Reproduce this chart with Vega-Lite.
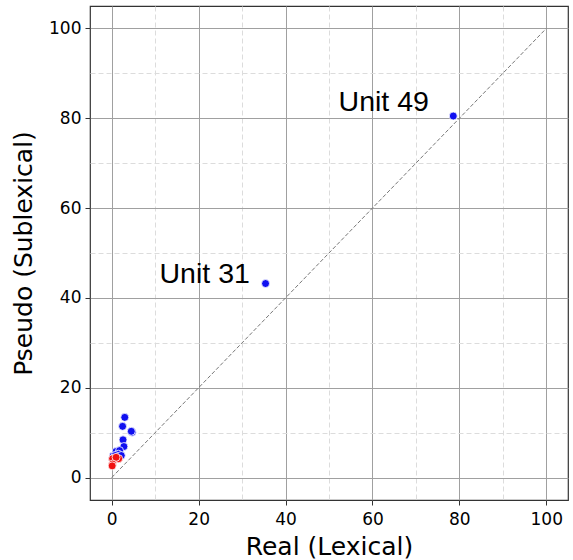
{
  "$schema": "https://vega.github.io/schema/vega-lite/v6.json",
  "width": 478,
  "height": 494,
  "autosize": {"type": "none"},
  "padding": {"left": 90, "top": 6, "right": 5, "bottom": 60},
  "background": "white",
  "config": {
    "view": {"stroke": "#333333", "strokeWidth": 1.2},
    "font": "DejaVu Sans",
    "axis": {
      "labelFont": "DejaVu Sans",
      "labelFontSize": 17,
      "labelColor": "#000000",
      "titleFont": "DejaVu Sans",
      "titleFontSize": 25,
      "titleFontWeight": "normal",
      "titleColor": "#000000",
      "tickColor": "#333333",
      "tickSize": 5,
      "domain": false
    }
  },
  "datasets": {
    "pts": [
      {"real": 78.6, "pseudo": 80.5, "group": "blue"},
      {"real": 35.4, "pseudo": 43.2, "group": "blue"},
      {"real": 3.0, "pseudo": 13.4, "group": "blue"},
      {"real": 2.5, "pseudo": 11.4, "group": "blue"},
      {"real": 4.7, "pseudo": 10.1, "group": "blue"},
      {"real": 4.5, "pseudo": 10.3, "group": "blue"},
      {"real": 2.6, "pseudo": 8.4, "group": "blue"},
      {"real": 2.8, "pseudo": 6.9, "group": "blue"},
      {"real": 1.0, "pseudo": 5.8, "group": "blue"},
      {"real": 1.8, "pseudo": 6.0, "group": "blue"},
      {"real": 0.3, "pseudo": 4.8, "group": "blue"},
      {"real": 1.5, "pseudo": 5.2, "group": "blue"},
      {"real": 0.8, "pseudo": 4.9, "group": "blue"},
      {"real": 2.2, "pseudo": 4.9, "group": "blue"},
      {"real": 0.2, "pseudo": 4.2, "group": "blue"},
      {"real": 0.2, "pseudo": 4.2, "group": "red"},
      {"real": 1.6, "pseudo": 4.2, "group": "red"},
      {"real": 1.0, "pseudo": 4.5, "group": "red"},
      {"real": 0.2, "pseudo": 3.0, "group": "red"},
      {"real": 0.1, "pseudo": 2.6, "group": "red"}
    ],
    "diag": [
      {"real": 0, "pseudo": 0},
      {"real": 100, "pseudo": 100}
    ],
    "labels": [
      {"real": 52.2, "pseudo": 81.7, "label": "Unit 49"},
      {"real": 11.0, "pseudo": 43.4, "label": "Unit 31"}
    ]
  },
  "layer": [
    {
      "data": {"name": "diag"},
      "mark": {"type": "line", "color": "#777777", "strokeWidth": 1, "strokeDash": [4, 2]},
      "encoding": {
        "x": {
          "field": "real", "type": "quantitative",
          "scale": {"domain": [-5, 105], "nice": false, "zero": false},
          "axis": {
            "title": "Real (Lexical)",
            "values": [0, 10, 20, 30, 40, 50, 60, 70, 80, 90, 100],
            "labelExpr": "datum.value % 20 === 0 ? datum.label : ''",
            "tickOpacity": {"condition": {"test": "datum.value % 20 === 0", "value": 1}, "value": 0},
            "gridDash": {"condition": {"test": "datum.value % 20 === 0", "value": []}, "value": [5, 3]},
            "gridColor": {"condition": {"test": "datum.value % 20 === 0", "value": "#a0a0a0"}, "value": "#dcdcdc"},
            "gridWidth": 1,
            "labelPadding": 6,
            "titlePadding": 7
          }
        },
        "y": {
          "field": "pseudo", "type": "quantitative",
          "scale": {"domain": [-5, 105], "nice": false, "zero": false},
          "axis": {
            "title": "Pseudo (Sublexical)",
            "values": [0, 10, 20, 30, 40, 50, 60, 70, 80, 90, 100],
            "labelExpr": "datum.value % 20 === 0 ? datum.label : ''",
            "tickOpacity": {"condition": {"test": "datum.value % 20 === 0", "value": 1}, "value": 0},
            "gridDash": {"condition": {"test": "datum.value % 20 === 0", "value": []}, "value": [5, 3]},
            "gridColor": {"condition": {"test": "datum.value % 20 === 0", "value": "#a0a0a0"}, "value": "#dcdcdc"},
            "gridWidth": 1,
            "labelPadding": 4,
            "titlePadding": 12
          }
        }
      }
    },
    {
      "data": {"name": "pts"},
      "mark": {"type": "circle", "size": 64, "opacity": 1, "stroke": "white", "strokeWidth": 0.8},
      "encoding": {
        "x": {"field": "real", "type": "quantitative"},
        "y": {"field": "pseudo", "type": "quantitative"},
        "color": {
          "field": "group", "type": "nominal",
          "scale": {"domain": ["blue", "red"], "range": ["#1010f0", "#f01010"]},
          "legend": null
        }
      }
    },
    {
      "data": {"name": "labels"},
      "mark": {"type": "text", "font": "Liberation Sans", "fontSize": 28.5, "align": "left", "baseline": "alphabetic", "color": "#000000"},
      "encoding": {
        "x": {"field": "real", "type": "quantitative"},
        "y": {"field": "pseudo", "type": "quantitative"},
        "text": {"field": "label", "type": "nominal"}
      }
    }
  ]
}
